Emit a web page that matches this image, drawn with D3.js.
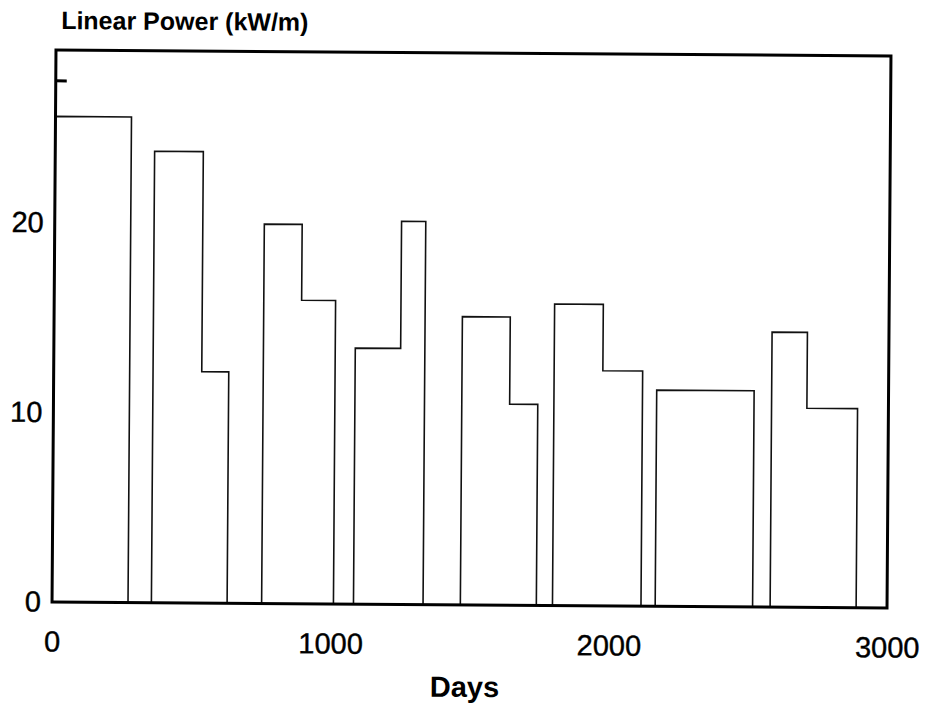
<!DOCTYPE html>
<html>
<head>
<meta charset="utf-8">
<script src="https://cdn.jsdelivr.net/npm/d3@7"></script>
<style>
  body { margin: 0; background: #fff; }
  svg { display: block; background: #fff; font-family: "Liberation Sans", Arial, Helvetica, sans-serif; }
</style>
</head>
<body>
<svg></svg>
<script>
// irradiation cycles: start day, optional power change day, end day
const cycleStart  = [0,    357,  753,  1083, 1467, 1798, 2167, 2580];
const cycleStep   = [null, 532,  889,  1246, 1639, 1973, null, 2707];
const cycleEnd    = [273,  629,  1011, 1333, 1740, 2116, 2517, 2889];
const powerBefore = [25.6, 23.8, 20.0, 13.5, 15.2, 15.9, 11.4, 14.5];
const powerAfter  = [null, 12.2, 16.0, 20.2, 10.6, 12.4, null, 10.5];

const xTicks = [0, 1000, 2000, 3000];
const yTicks = [0, 10, 20];
const yInnerTicks = [27.5];

const width = 926, height = 709;
const plot = { left: 54, right: 889, top: 53, bottom: 605 };
const tilt = 0.41; // the scanned figure sits slightly rotated

const svg = d3.select("svg")
  .attr("width", width)
  .attr("height", height);

const g = svg.append("g")
  .attr("transform", `rotate(${tilt},${(plot.left + plot.right) / 2},${(plot.top + plot.bottom) / 2})`);

const x = d3.scaleLinear()
  .domain([0, 3000])
  .range([plot.left, plot.right]);

const y = d3.scaleLinear()
  .domain([0, 29.1])
  .range([plot.bottom, plot.top]);

const cycles = cycleStart.map((s, i) => {
  const pts = [[s, 0], [s, powerBefore[i]]];
  if (cycleStep[i] != null) pts.push([cycleStep[i], powerAfter[i]]);
  const last = powerAfter[i] != null ? powerAfter[i] : powerBefore[i];
  pts.push([cycleEnd[i], last]);
  pts.push([cycleEnd[i], 0]);
  return pts;
});

const line = d3.line()
  .x(d => x(d[0]))
  .y(d => y(d[1]))
  .curve(d3.curveStepAfter);

g.selectAll(".cycle")
  .data(cycles)
  .enter().append("path")
  .attr("class", "cycle")
  .attr("d", line)
  .attr("fill", "none")
  .attr("stroke", "#111")
  .attr("stroke-width", 1.6);

// frame
g.append("rect")
  .attr("x", plot.left)
  .attr("y", plot.top)
  .attr("width", plot.right - plot.left)
  .attr("height", plot.bottom - plot.top)
  .attr("fill", "none")
  .attr("stroke", "#000")
  .attr("stroke-width", 3);

const xAxis = g.append("g")
  .attr("transform", `translate(0,${plot.bottom})`)
  .call(d3.axisBottom(x).tickValues(xTicks).tickSize(0).tickPadding(29).tickFormat(d3.format("d")));
xAxis.select(".domain").remove();
xAxis.selectAll("text")
  .attr("fill", "#000")
  .attr("stroke", "#000")
  .attr("stroke-width", 0.4)
  .style("font-family", "'Liberation Sans', Arial, sans-serif")
  .style("font-size", "29px");

const yAxis = g.append("g")
  .attr("transform", `translate(${plot.left},0)`)
  .call(d3.axisLeft(y).tickValues(yTicks).tickSize(0).tickPadding(11).tickFormat(d3.format("d")));
yAxis.select(".domain").remove();
yAxis.selectAll("text")
  .attr("fill", "#000")
  .attr("stroke", "#000")
  .attr("stroke-width", 0.4)
  .style("font-family", "'Liberation Sans', Arial, sans-serif")
  .style("font-size", "29px");

const innerTicks = g.append("g")
  .attr("transform", `translate(${plot.left},0)`)
  .call(d3.axisRight(y).tickValues(yInnerTicks).tickSize(11).tickFormat(""));
innerTicks.select(".domain").remove();
innerTicks.selectAll("line")
  .attr("stroke", "#000")
  .attr("stroke-width", 3);

g.append("text")
  .attr("x", 59)
  .attr("y", 32)
  .attr("font-size", "25px")
  .attr("font-weight", "bold")
  .text("Linear Power (kW/m)");

g.append("text")
  .attr("x", 467)
  .attr("y", 697)
  .attr("text-anchor", "middle")
  .attr("font-size", "29px")
  .attr("font-weight", "bold")
  .text("Days");
</script>
</body>
</html>
